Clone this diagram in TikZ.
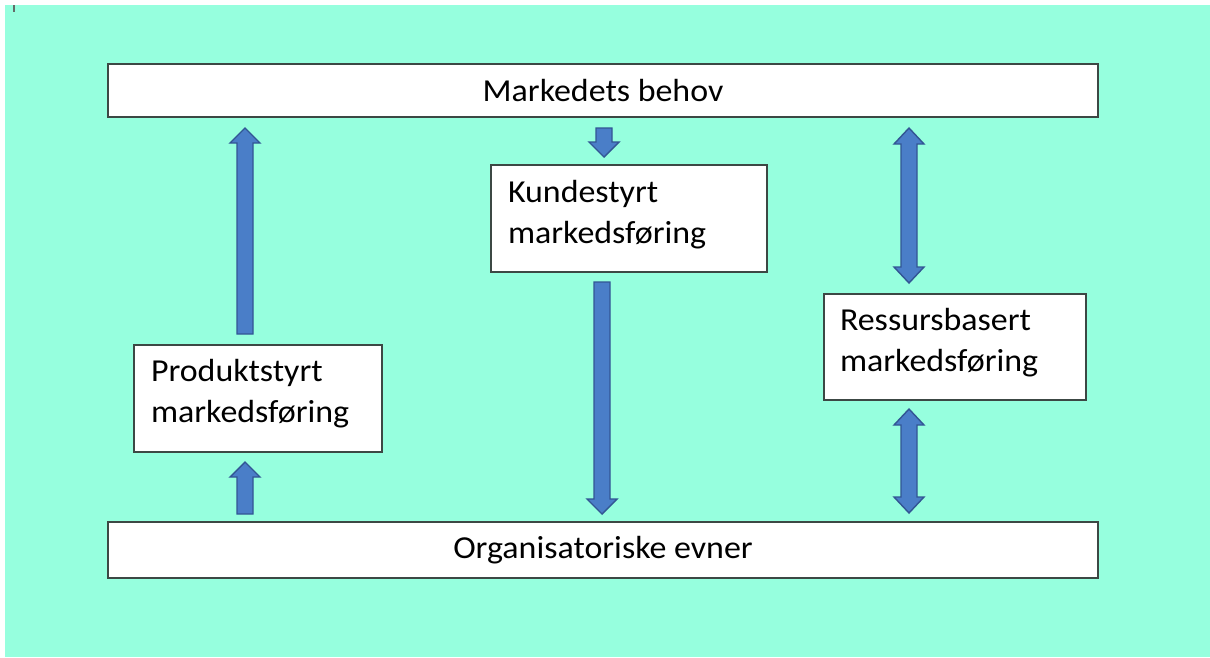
\documentclass[tikz,border=0pt]{standalone}
\usepackage{fontspec}
\setmainfont[FakeStretch=1.06]{Carlito}
\usetikzlibrary{calc}
\definecolor{sea}{RGB}{150,255,222}
\definecolor{boxline}{RGB}{60,72,68}
\definecolor{arrowfill}{RGB}{74,126,200}
\definecolor{arrowline}{RGB}{50,86,148}
% block arrows: x centre, start y, tip y (y grows downwards)
\newcommand\dirsign{1}
\newcommand\blockone[3]{%
  \filldraw[blockarrow] (#1-8,#2) -- (#1-8,#3+15*\dirsign) -- (#1-15,#3+15*\dirsign) -- (#1,#3)
    -- (#1+15,#3+15*\dirsign) -- (#1+8,#3+15*\dirsign) -- (#1+8,#2) -- cycle;}
\newcommand\blocktwo[3]{%
  \filldraw[blockarrow] (#1,#2) -- (#1+15,#2+16) -- (#1+8,#2+16) -- (#1+8,#3-16) -- (#1+15,#3-16)
    -- (#1,#3) -- (#1-15,#3-16) -- (#1-8,#3-16) -- (#1-8,#2+16) -- (#1-15,#2+16) -- cycle;}
\begin{document}
\begin{tikzpicture}[x=1pt,y=-1pt,
  box/.style={draw=boxline,line width=1.7pt,fill=white,inner sep=0pt,
    font=\fontsize{32}{38}\selectfont},
  boxtext/.style={inner sep=0pt,align=left,text width=#1,
    font=\fontsize{32}{41}\selectfont},
  blockarrow/.style={fill=arrowfill,draw=arrowline,line width=1.4pt,line join=miter}]
\useasboundingbox (0,0) rectangle (1210,657);
\fill[white] (0,0) rectangle (1210,657);
\fill[sea] (5,5) rectangle (1210,657);
\draw[boxline!80,line width=1.2pt] (14,5) -- (14,12);

% wide boxes
\node[box,minimum width=990pt,minimum height=53pt] (behov) at (603,90.5) {Markedets behov};
\node[box,minimum width=990pt,minimum height=56pt] (evner) at (603,550) {Organisatoriske evner};

% the three kinds of marketing
\node[box,minimum width=276pt,minimum height=107pt] (kunde) at (629,218.5) {};
\node[boxtext=242pt] (kundetext) at ($(kunde.center)+(0,-4)$) {Kundestyrt\\markedsføring};
\node[box,minimum width=248pt,minimum height=107pt] (produkt) at (258,398.5) {};
\node[boxtext=214pt] (produkttext) at ($(produkt.center)+(0,-5)$) {Produktstyrt\\markedsføring};
\node[box,minimum width=262pt,minimum height=106pt] (ressurs) at (955,347) {};
\node[boxtext=230pt] (ressurstext) at ($(ressurs.center)+(0,-4)$) {Ressursbasert\\markedsføring};

% arrows
\renewcommand\dirsign{1}
\blockone{245}{334}{128}
\blockone{245}{514}{462}
\renewcommand\dirsign{-1}
\blockone{604}{128}{157}
\blockone{602}{282}{514}
\blocktwo{909}{128}{283}
\blocktwo{909}{409}{513}
\end{tikzpicture}
\end{document}
